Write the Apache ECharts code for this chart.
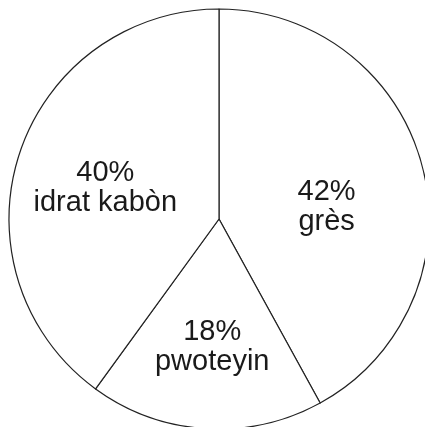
<!doctype html>
<html lang="en">
  <head>
    <meta charset="UTF-8" />
    <title>pie</title>
    <style>
      html,
      body {
        width: 100%;
        height: 100%;
        margin: 0;
        padding: 0;
        background: #fff;
      }
      #Echart {
        width: 425px;
        height: 427px;
      }
    </style>
  </head>
  <body>
    <div id="Echart"></div>
    <script type="text/javascript" src="https://cdn.jsdelivr.net/npm/echarts@6/dist/echarts.min.js"></script>
    <script type="text/javascript">
      const categories = ['grès', 'pwoteyin', 'idrat kabòn']
      const values = [42, 18, 40]
      // small nudges so labels sit where the reference puts them
      const labelShift = [
        [3, 15],
        [0, 20],
        [-11, 2],
      ]

      let chart = null
      function initEchart() {
        const data = categories.map((name, i) => ({ name: name, value: values[i] }))
        const option = {
          animation: false,
          backgroundColor: '#fff',
          series: [
            {
              type: 'pie',
              center: [219, 219],
              radius: [0, 210],
              startAngle: 90,
              clockwise: true,
              data: data,
              itemStyle: {
                color: '#fff',
                borderColor: '#222',
                borderWidth: 1.2,
              },
              label: {
                show: true,
                position: 'inside',
                formatter: '{d}%\n{b}',
                color: '#1a1a1a',
                fontSize: 29,
                lineHeight: 30,
                fontFamily: 'Liberation Sans, Arial, sans-serif',
              },
              labelLayout: function (params) {
                const s = labelShift[params.dataIndex]
                return { dx: s[0], dy: s[1] }
              },
              emphasis: { disabled: true },
            },
          ],
        }
        chart = echarts.init(document.getElementById('Echart'))
        chart.setOption(option)
      }
      window.onload = function () {
        initEchart()
      }
    </script>
  </body>
</html>
